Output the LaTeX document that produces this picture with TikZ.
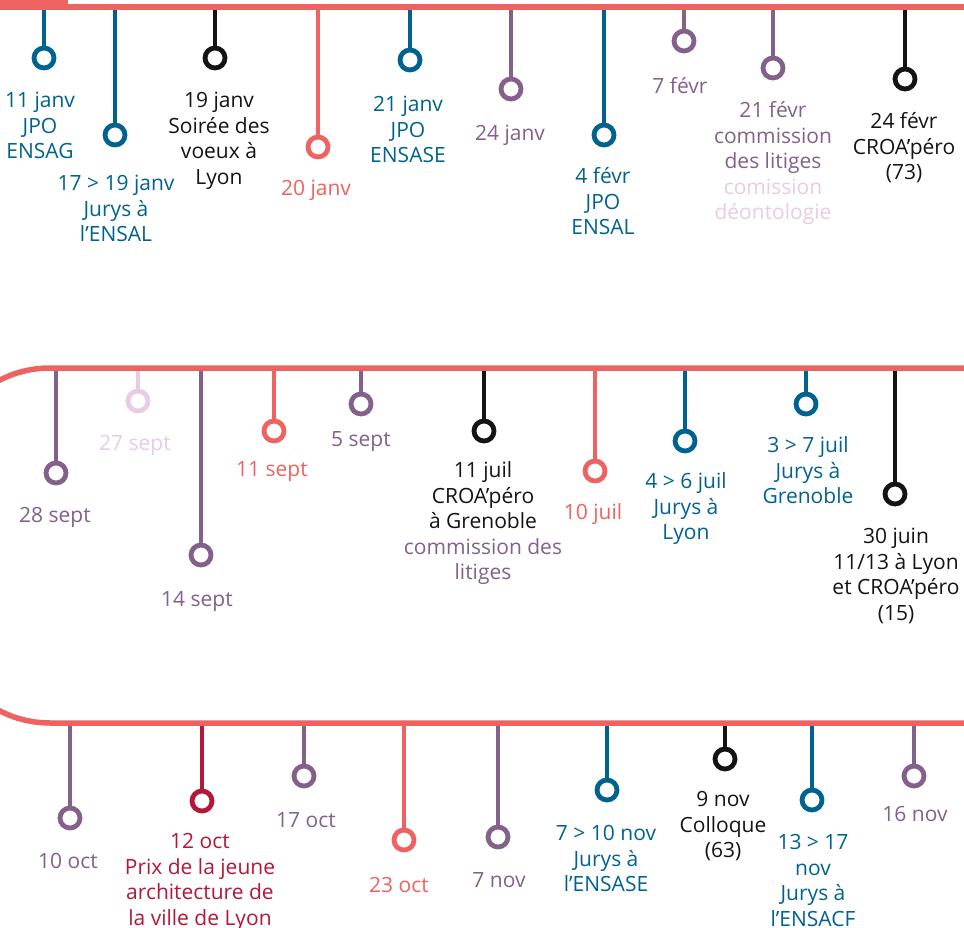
\documentclass[tikz,border=0pt]{standalone}
\usepackage{fontspec}
\setmainfont{Open Sans}
\definecolor{redc}{HTML}{EE6262}
\definecolor{bluec}{HTML}{00628F}
\definecolor{purc}{HTML}{83618A}
\definecolor{pinkc}{HTML}{E8CBE5}
\definecolor{blkc}{HTML}{141414}
\definecolor{crimc}{HTML}{B3173A}
\tikzset{
  mainline/.style={draw=redc, line width=5.5pt},
  stemline/.style={line width=4.8pt},
  ring/.style={circle, minimum size=20pt, inner sep=0pt, outer sep=0pt, line width=4.8pt, fill=white},
  lab/.style={anchor=north, yshift=10.5pt, inner sep=0pt, align=center, font=\fontsize{21}{25.5}\selectfont}
}
% #1 name, #2 x, #3 line y, #4 circle y, #5 colour, #6 label x, #7 label y, #8 text
\newcommand{\evt}[8]{%
  \coordinate (#1t) at (#2,#3);
  \node[ring, draw=#5] (#1) at (#2,#4) {};
  \draw[stemline, #5] (#1t) -- (#1);
  \node[lab, text=#5] (#1l) at (#6,#7) {\strut #8};
}
\begin{document}
\begin{tikzpicture}[x=1pt,y=-1pt]
\useasboundingbox (0,0) rectangle (964,928);
\clip (0,0) rectangle (964,928);
\fill[white] (0,0) rectangle (964,928);
% top row
\evt{a1}{44}{7}{58}{bluec}{40}{100}{11 janv\\JPO\\ENSAG}
\evt{a2}{115}{7}{135}{bluec}{116}{183}{17 > 19 janv\\Jurys à\\l’ENSAL}
\evt{a3}{215}{7}{58}{blkc}{219}{100}{19 janv\\Soirée des\\voeux à\\Lyon}
\evt{a4}{318}{7}{147}{redc}{316}{188}{20 janv}
\evt{a5}{410}{7}{60}{bluec}{408}{104}{21 janv\\JPO\\ENSASE}
\evt{a6}{511}{7}{89}{purc}{510}{133}{24 janv}
\evt{a7}{604}{7}{135}{bluec}{603}{176}{4 févr\\JPO\\ENSAL}
\evt{a8}{684}{7}{41}{purc}{680}{86}{7 févr}
\evt{a9}{773}{7}{68}{purc}{773}{110}{21 févr\\commission\\des litiges\\\textcolor{pinkc}{comission}\\\textcolor{pinkc}{déontologie}}
\evt{a10}{905}{7}{79}{blkc}{904}{121}{24 févr\\CROA’péro\\(73)}
% middle row
\evt{b1}{56}{368}{473}{purc}{55}{515}{28 sept}
\evt{b2}{138}{368}{401}{pinkc}{135}{443}{27 sept}
\evt{b3}{201}{368}{555}{purc}{197}{599}{14 sept}
\evt{b4}{274}{368}{431}{redc}{272}{469}{11 sept}
\evt{b5}{361}{368}{404}{purc}{361}{439}{5 sept}
\evt{b6}{484}{368}{431}{blkc}{483}{470}{11 juil\\CROA’péro\\à Grenoble\\\textcolor{purc}{commission des}\\\textcolor{purc}{litiges}}
\evt{b7}{595}{368}{471}{redc}{593}{512}{10 juil}
\evt{b8}{685}{368}{441}{bluec}{686}{481}{4 > 6 juil\\Jurys à\\Lyon}
\evt{b9}{806}{368}{404}{bluec}{808}{445}{3 > 7 juil\\Jurys à\\Grenoble}
\evt{b10}{895}{368}{494}{blkc}{896}{536}{30 juin\\11/13 à Lyon\\et CROA’péro\\(15)}
% bottom row
\evt{c1}{70}{723}{818}{purc}{68}{861}{10 oct}
\evt{c2}{202}{723}{801}{crimc}{200}{841}{12 oct\\Prix de la jeune\\architecture de\\la ville de Lyon}
\evt{c3}{304}{723}{776}{purc}{306}{820}{17 oct}
\evt{c4}{404}{723}{840}{redc}{399}{885}{23 oct}
\evt{c5}{498}{723}{837}{purc}{499}{880}{7 nov}
\evt{c6}{607}{723}{790}{bluec}{606}{833}{7 > 10 nov\\Jurys à\\l’ENSASE}
\evt{c7}{725}{723}{759}{blkc}{723}{799}{9 nov\\Colloque\\(63)}
\evt{c8}{812}{723}{800}{bluec}{813}{842}{13 > 17\\nov\\Jurys à\\l’ENSACF}
\evt{c9}{914}{723}{776}{purc}{915}{814}{16 nov}
% main timeline
\fill[redc] (0,0) rectangle (68,4);
\draw[mainline] (0,7) -- (964,7);
\draw[mainline, rounded corners=110pt] (964,368) -- (-60,368) -- (-60,723) -- (964,723);
\end{tikzpicture}
\end{document}
